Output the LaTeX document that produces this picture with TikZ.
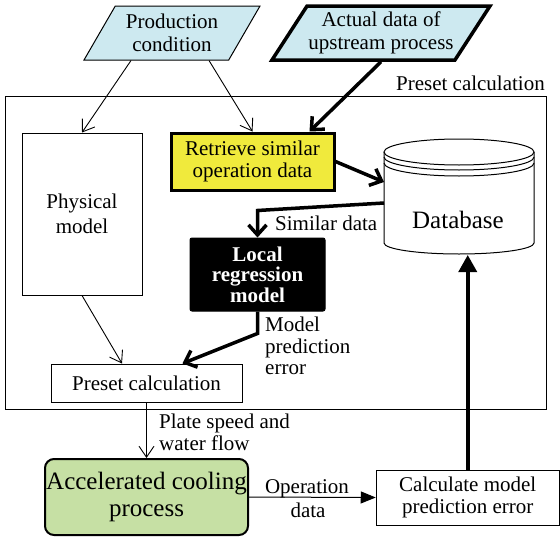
\documentclass[tikz,border=0pt]{standalone}
\usepackage{fontspec}
\setmainfont{Liberation Serif}
\usetikzlibrary{shapes.geometric,arrows.meta}
\definecolor{inblue}{RGB}{205,233,240}
\definecolor{hiyellow}{RGB}{240,234,60}
\definecolor{procgreen}{RGB}{198,224,164}
\tikzset{
  txt/.style={font=\fontsize{21}{22.5}\selectfont, align=center},
  box/.style={txt, draw, line width=1pt, inner sep=0pt},
  io/.style={txt, draw, shape=trapezium, trapezium left angle=50, trapezium right angle=130,
    trapezium stretches body, fill=inblue, inner sep=0pt, minimum height=54pt},
  thinarr/.style={line width=0.9pt, -{Straight Barb[length=11pt,width=15pt]}},
  thickarr/.style={line width=3.5pt, -{Straight Barb[length=10pt,width=18pt]}},
}
\begin{document}
\begin{tikzpicture}[x=1pt,y=1pt]
  \useasboundingbox (0,0) rectangle (560,-538);
  % inputs
  \node[io, line width=1pt, minimum width=176pt] (prod) at (172,-33) {Production\\condition};
  \node[io, line width=3.5pt, minimum width=218pt] (actual) at (381,-33) {Actual data of\\upstream process};
  % preset calculation frame
  \node[box, minimum width=541pt, minimum height=313pt] (frame) at (275.5,-252.5) {};
  \node[txt, anchor=base east, inner sep=0pt] (framelabel) at (545,-90) {Preset calculation};
  \node[box, minimum width=120pt, minimum height=162pt] (phys) at (82,-214) {Physical\\[2pt]model};
  \node[box, line width=3pt, fill=hiyellow, minimum width=163pt, minimum height=57pt] (retr) at (252.5,-161.5) {Retrieve similar\\operation data};
  \node[box, fill=black, text=white, rounded corners=2pt, font=\fontsize{21}{20.5}\selectfont\bfseries,
    minimum width=135pt, minimum height=73pt] (local) at (257.5,-274.5) {Local\\regression\\model};
  \node[box, minimum width=191pt, minimum height=38pt] (preset) at (146.5,-383) {Preset calculation};
  % database
  \draw[line width=1pt] (384,-152) -- (384,-243) arc[start angle=180, end angle=360, x radius=75pt, y radius=11pt] -- (534,-152);
  \draw[line width=1pt] (459,-152) ellipse [x radius=75pt, y radius=13pt];
  \draw[line width=1pt] (384,-157) arc[start angle=180, end angle=360, x radius=75pt, y radius=13pt];
  \draw[line width=1pt] (384,-163) arc[start angle=180, end angle=360, x radius=75pt, y radius=13pt];
  \node[txt, font=\fontsize{25}{27}\selectfont] (db) at (458,-220) {Database};
  \coordinate (dbin) at (384,-182);
  \coordinate (dbout) at (384,-203);
  \coordinate (dbbot) at (469,-255);
  % process
  \node[box, line width=2pt, rounded corners=9pt, fill=procgreen, font=\fontsize{25}{27}\selectfont,
    minimum width=203pt, minimum height=76pt] (accel) at (146.5,-497) {Accelerated cooling\\process};
  \node[box, minimum width=183pt, minimum height=55pt] (calc) at (467.75,-497.5) {Calculate model\\prediction error};
  % connectors
  \draw[thinarr] ([xshift=-41pt]prod.south) -- (phys.north);
  \draw[thinarr] ([xshift=37pt]prod.south) -- (retr.north);
  \draw[thickarr] (actual.south) -- ([xshift=57pt]retr.north);
  \draw[thickarr] (retr.east) -- (dbin);
  \draw[thickarr] (dbout) -- ([yshift=27pt]local.north) -- (local.north);
  \node[txt, anchor=west, inner sep=0pt] (simlabel) at (275,-223) {Similar data};
  \draw[thickarr] (local.south) -- ([yshift=-22pt]local.south) -- ([xshift=36pt]preset.north);
  \node[txt, align=left, anchor=north west, inner sep=0pt] (errlabel) at (265,-317) {Model\\[-1pt]prediction\\[-1pt]error};
  \draw[thinarr] (phys.south) -- ([xshift=-24.5pt]preset.north);
  \draw[thinarr] (preset.south) -- (accel.north);
  \node[txt, align=left, anchor=north west, inner sep=0pt] (flowlabel) at (159,-414) {Plate speed and\\[-1pt]water flow};
  \draw[line width=1pt, -{Triangle[length=15pt,width=12pt]}] (accel.east) -- (calc.west);
  \node[txt, anchor=base, inner sep=0pt] (oplabel) at (307,-493) {Operation};
  \node[txt, anchor=base, inner sep=0pt] (datalabel) at (308,-517) {data};
  \draw[line width=3.5pt, -{Triangle[length=17pt,width=18pt]}] (calc.north) -- (calc.north |- dbbot);
\end{tikzpicture}
\end{document}
